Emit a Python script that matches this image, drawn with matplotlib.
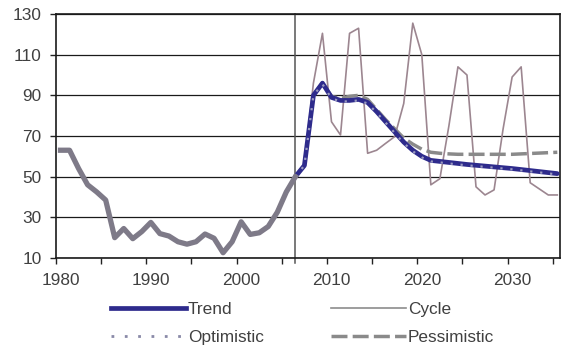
import matplotlib
matplotlib.use("Agg")
import matplotlib.pyplot as plt

plt.rcParams['font.family'] = ['Liberation Sans', 'DejaVu Sans']

# history, shared by every series
hist_years = list(range(1980, 2007))
hist_vals = [63, 63, 54, 46, 42.5, 38.5, 20, 24.5, 19.5, 23,
             27.5, 22, 20.8, 18, 16.8, 18, 21.8, 19.7, 12.6, 18,
             27.8, 21.6, 22.4, 25.5, 32.5, 42.5, 50]

# projections 2006-2035
proj_years = list(range(2006, 2036))
trend = [50, 55.5, 90, 96, 89, 87.5, 87.5, 88, 86.5, 82,
         77, 72, 67, 63, 60, 58, 57.5, 57, 56.5, 56,
         55.6, 55.2, 54.8, 54.4, 54, 53.5, 53, 52.5, 52, 51.5]
optimistic = [50, 55.5, 90, 95.5, 88.5, 87, 87, 87.5, 86, 81.5,
              76.5, 71.5, 66.5, 62.5, 59.5, 57.5, 57, 56.5, 56, 55.6,
              55.2, 54.8, 54.4, 54, 53.6, 53.1, 52.6, 52.1, 51.6, 51.1]
pessimistic = [50, 55.5, 90, 96, 89.5, 88.5, 89.5, 90, 88, 83,
               78, 73.5, 69, 66, 63.5, 62, 61.5, 61.2, 61, 61,
               61, 61, 61, 61, 61, 61.2, 61.4, 61.6, 61.8, 62]
cycle = [50, 56, 96, 120.5, 77, 70.5, 120.5, 123, 61.5, 63,
         66.4, 69.7, 86, 125.5, 110, 46, 49, 75, 104, 100,
         45, 41, 43.5, 73.5, 99, 104, 47, 44, 41, 41]

y_ticks = [10, 30, 50, 70, 90, 110, 130]
x_labels = [1980, 1990, 2000, 2010, 2020, 2030]
split_year = 2006

text_col = '#404040'

fig = plt.figure(figsize=(5.63, 3.51), dpi=100)
ax = fig.add_axes([56 / 563, 1 - 258 / 351, 504 / 563, 244 / 351])

ax.plot(proj_years, cycle, color='#9c8690', lw=1.2, zorder=3)
ax.plot(proj_years, pessimistic, color='#8a8a8a', lw=2.5, dashes=(4.6, 1.5), zorder=4)
ax.plot(proj_years, trend, color='#2e2b8c', lw=3.4, solid_capstyle='round', zorder=5)
ax.plot(proj_years, optimistic, color='#9a9ac0', lw=1.6, dashes=(1, 3.5), zorder=6)
ax.plot(hist_years, hist_vals, color='#7e7a88', lw=3.8, solid_joinstyle='round', zorder=7)

# legend proxies
h_trend, = ax.plot([], [], color='#2e2b8c', lw=3.4, label='Trend')
h_opt, = ax.plot([], [], color='#8a8aa8', lw=2, dashes=(1, 3.8), label='Optimistic')
h_cyc, = ax.plot([], [], color='#8c8c8c', lw=1.2, label='Cycle')
h_pes, = ax.plot([], [], color='#8a8a8a', lw=2.5, dashes=(4.6, 1.5), label='Pessimistic')

ax.axvline(split_year, ymin=-0.022, ymax=1, color='#555555', lw=1.1, clip_on=False, zorder=2)

ax.set_ylim(10, 130)
ax.set_xlim(1979.5, 2035.3)
ax.set_yticks(y_ticks)
ax.yaxis.grid(True, color='#1a1a1a', lw=0.9)
ax.set_axisbelow(True)

ax.set_xticks(x_labels)
ax.set_xticks([1979.5 + 5 * k for k in range(12)], minor=True)
ax.tick_params(axis='x', which='major', length=0, pad=11, labelsize=12.4, labelcolor=text_col)
ax.tick_params(axis='x', which='minor', length=4, width=1, direction='out', color='#222222')
ax.tick_params(axis='y', length=4.3, width=1, pad=6, labelsize=12.4, labelcolor=text_col, color='#222222')

for s in ax.spines.values():
    s.set_color('#1a1a1a')
    s.set_linewidth(1.2)

fig.legend(handles=[h_trend, h_opt, h_cyc, h_pes], ncol=2, frameon=False,
           loc='upper left', bbox_to_anchor=(111 / 563, 1 - 302 / 351),
           borderpad=0, borderaxespad=0, handlelength=4.36, handletextpad=0.1,
           columnspacing=3.9, labelspacing=0.74, fontsize=12.4, labelcolor=text_col)

fig.savefig('out.png', dpi=100, facecolor='white')
